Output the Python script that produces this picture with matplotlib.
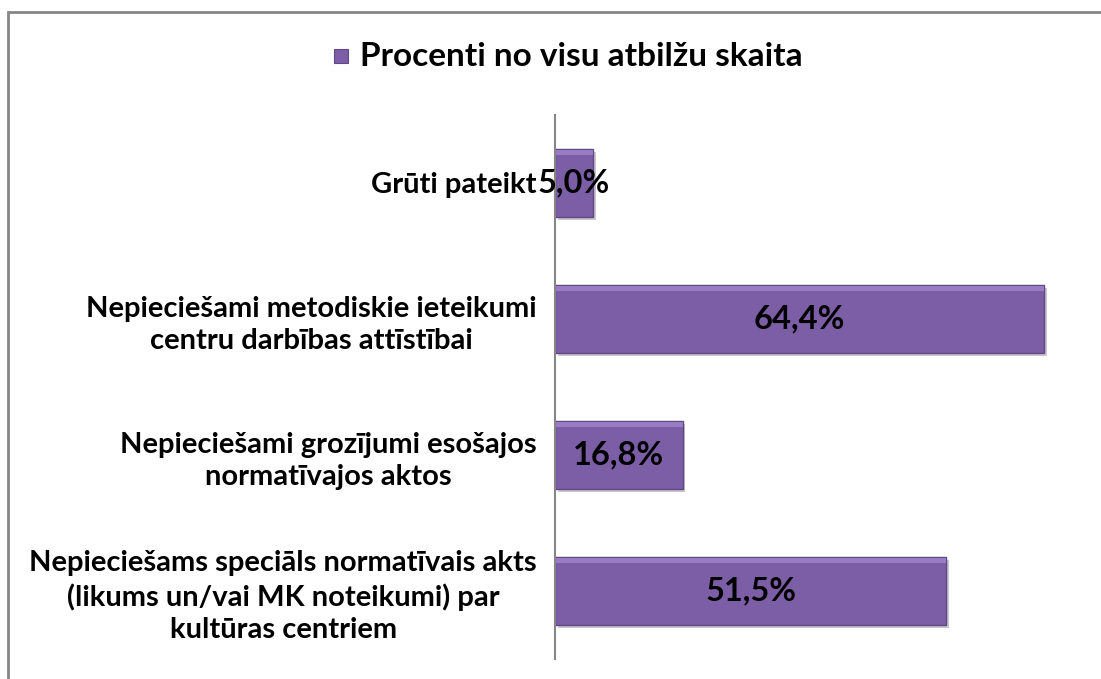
import matplotlib.pyplot as plt
import matplotlib.patheffects as pe
from matplotlib.patches import Rectangle

plt.rcParams['font.family'] = ['Lato', 'DejaVu Sans']

# Data (bottom to top)
categories = [
    'Nepiecie\u0161ams speci\u0101ls normat\u012bvais akts\n(likums un/vai MK noteikumi) par\nkult\u016bras centriem',
    'Nepiecie\u0161ami groz\u012bjumi eso\u0161ajos\nnormat\u012bvajos aktos',
    'Nepiecie\u0161ami metodiskie ieteikumi\ncentru darb\u012bbas att\u012bst\u012bbai',
    'Gr\u016bti pateikt',
]
values = [51.5, 16.8, 64.4, 5.0]
labels = ['51,5%', '16,8%', '64,4%', '5,0%']
series_name = 'Procenti no visu atbil\u017eu skaita'

fig = plt.figure(figsize=(11.01, 6.79), dpi=100)
ax = fig.add_axes([555 / 1101, 1 - 659 / 679, (1087 - 555) / 1101, (659 - 115) / 679])

y = range(len(values))
bars = ax.barh(y, values, height=0.5, color='#7C5EA6', edgecolor='#5E4984',
               linewidth=1.0,
               path_effects=[pe.SimplePatchShadow(offset=(2, -2), alpha=0.25), pe.Normal()])
# lighter top bevel
ax.barh([i + 0.225 for i in y], values, height=0.04, color='#A68AD0',
        linewidth=0, alpha=0.7)

for yi, v, lab in zip(y, values, labels):
    ax.text(v / 2, yi, lab, ha='center', va='center', fontsize=23.5,
            fontweight='bold', color='black')

ax.set_xlim(0, 70)
ax.set_ylim(-0.5, len(values) - 0.5)
ax.set_yticks(list(y))
ax.set_yticklabels(categories, fontsize=21, fontweight='bold',
                   multialignment='center', linespacing=1.3)
ax.tick_params(axis='y', length=0, pad=13)
ax.set_xticks([])
for s in ['top', 'right', 'bottom']:
    ax.spines[s].set_visible(False)
ax.spines['left'].set_color('#868686')
ax.spines['left'].set_linewidth(1.5)

# legend at top
fig.patches.append(Rectangle((334 / 1101, 1 - 63 / 679), 14 / 1101, 14 / 679,
                             transform=fig.transFigure, facecolor='#7C5EA6',
                             edgecolor='#5E4984', linewidth=0.8))
fig.text(360 / 1101, 1 - 56 / 679, series_name, ha='left', va='center',
         fontsize=24, fontweight='bold')

# outer border
fig.patches.append(Rectangle((8 / 1101, -0.05), 1.2, 1 + 0.05 - 12 / 679,
                             transform=fig.transFigure, fill=False,
                             edgecolor='#868686', linewidth=2))

fig.savefig('out.png', dpi=100)
